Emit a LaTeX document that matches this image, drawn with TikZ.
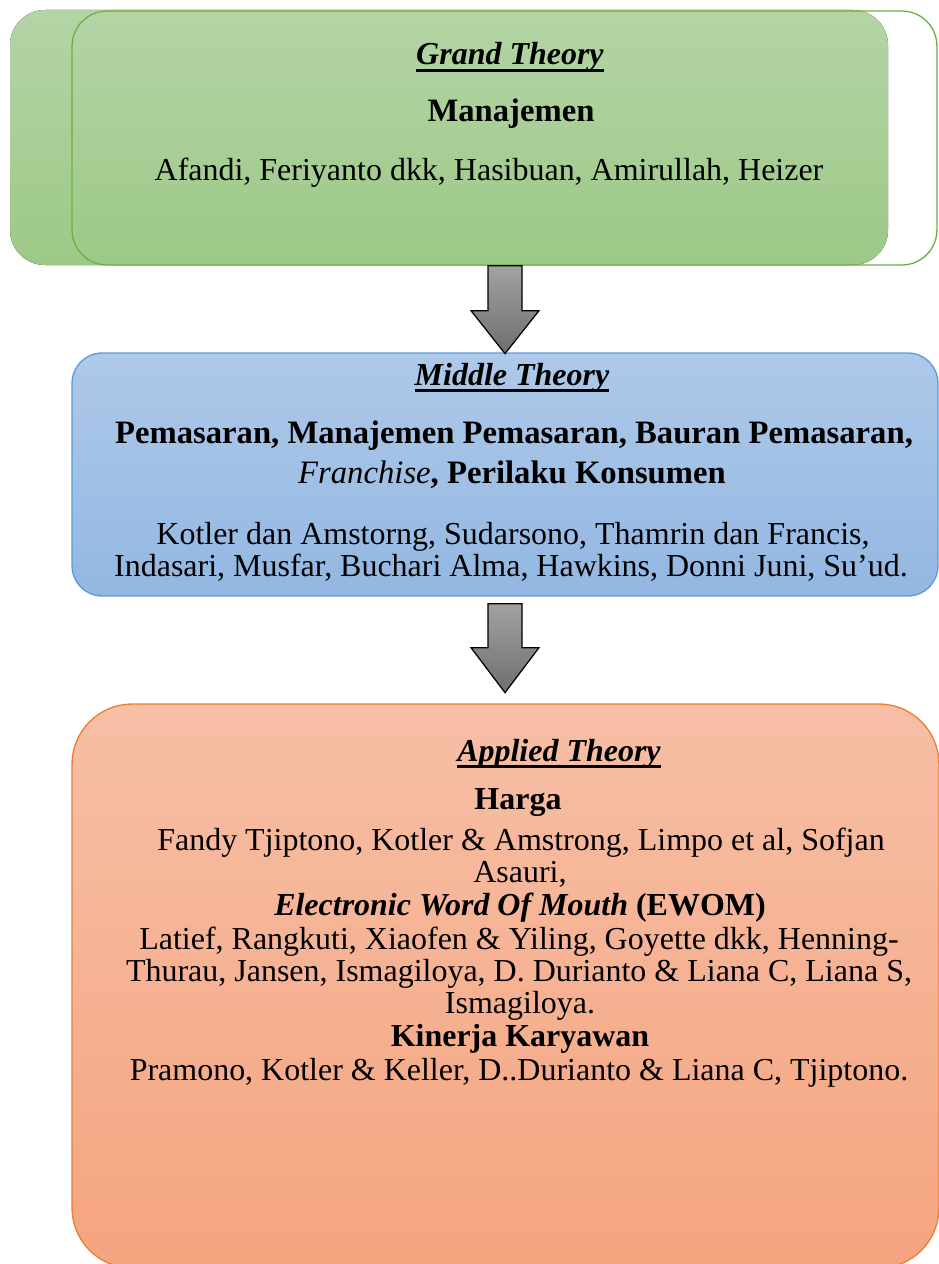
\documentclass[tikz,border=0pt]{standalone}
\usepackage{fontspec}
\setmainfont{Liberation Serif}
\usetikzlibrary{calc}

\definecolor{grandtop}{HTML}{B4D4A5}
\definecolor{grandbot}{HTML}{9DC987}
\definecolor{grandline}{HTML}{70AD47}
\definecolor{middletop}{HTML}{AEC9E9}
\definecolor{middlebot}{HTML}{93B7E2}
\definecolor{middleline}{HTML}{5B9BD5}
\definecolor{appliedtop}{HTML}{F6BFA6}
\definecolor{appliedbot}{HTML}{F5A47F}
\definecolor{appliedline}{HTML}{ED7D31}
\definecolor{arrowtop}{HTML}{A2A2A2}
\definecolor{arrowbot}{HTML}{6E6E6E}

\newcommand\theoryline[1]{\sbox0{#1}\rlap{\rule[-3.8pt]{\wd0}{1.8pt}}\usebox0}

\tikzset{
  theorybox/.style={rounded corners=#1, inner sep=0pt, line width=0.75pt},
  txt/.style={anchor=base, inner sep=0pt, font=\fontsize{18.2}{19}\selectfont},
  bigtxt/.style={txt, font=\fontsize{18.6}{19}\selectfont},
  blockarrow/.style={draw=black, line width=0.7pt, line join=miter,
    top color=arrowtop, bottom color=arrowbot},
}

\begin{document}
\begin{tikzpicture}[x=0.02cm, y=-0.02cm]
  \useasboundingbox (0,0) rectangle (939,1264);
  \clip (0,0) rectangle (939,1264);

  % boxes
  \fill[top color=grandtop, bottom color=grandbot, rounded corners=0.7cm] (10,10) rectangle (888,265);
  \node[theorybox=0.7cm, draw=grandline, minimum width=17.3cm, minimum height=5.08cm] (grand) at (504.5,138) {};
  \node[theorybox=0.6cm, draw=middleline, top color=middletop, bottom color=middlebot,
        minimum width=17.32cm, minimum height=4.86cm] (middle) at (505,474.5) {};
  \node[theorybox=1.2cm, draw=appliedline, top color=appliedtop, bottom color=appliedbot,
        minimum width=17.34cm, minimum height=11.28cm] (applied) at (505.5,986) {};

  % arrows
  \coordinate (arr1) at (grand.south -| middle.north);
  \coordinate (arr2) at ($(middle.south)+(0,7)$);
  \draw[blockarrow] (arr1) +(-17,0) -- +(-17,45) -- +(-34,45) -- +(0,88) -- +(34,45) -- +(17,45) -- +(17,0) -- cycle;
  \draw[blockarrow] (arr2) +(-17,0) -- +(-17,44) -- +(-34,44) -- +(0,89) -- +(34,44) -- +(17,44) -- +(17,0) -- cycle;

  % grand theory
  \node[txt] (grandhead) at (510,65) {\theoryline{\textbf{\textit{Grand Theory}}}};
  \node[bigtxt] (grandtopic) at (511,122) {\textbf{Manajemen}};
  \node[txt] (grandauth) at (489,180) {Afandi, Feriyanto dkk, Hasibuan, Amirullah, Heizer};

  % middle theory
  \node[txt] (midhead) at (512,385) {\theoryline{\textbf{\textit{Middle Theory}}}};
  \node[bigtxt] (midtopic1) at (514,443) {\textbf{Pemasaran, Manajemen Pemasaran, Bauran Pemasaran,}};
  \node[bigtxt] (midtopic2) at (512,483) {\textit{Franchise}\textbf{, Perilaku Konsumen}};
  \node[txt] (midauth1) at (513,544) {Kotler dan Amstorng, Sudarsono, Thamrin dan Francis,};
  \node[txt] (midauth2) at (511,576) {Indasari, Musfar, Buchari Alma, Hawkins, Donni Juni, Su’ud.};

  % applied theory
  \node[txt] (apphead) at (559,761) {\theoryline{\textbf{\textit{Applied Theory}}}};
  \node[txt] (harga) at (518,809) {\textbf{Harga}};
  \node[txt] (hargaauth1) at (521,850) {Fandy Tjiptono, Kotler \& Amstrong, Limpo et al, Sofjan};
  \node[txt] (hargaauth2) at (520,882) {Asauri,};
  \node[txt] (ewom) at (520,915) {\textbf{\textit{Electronic Word Of Mouth} (EWOM)}};
  \node[txt] (ewomauth1) at (519,949) {Latief, Rangkuti, Xiaofen \& Yiling, Goyette dkk, Henning-};
  \node[txt] (ewomauth2) at (519,981) {Thurau, Jansen, Ismagiloya, D. Durianto \& Liana C, Liana S,};
  \node[txt] (ewomauth3) at (520,1013) {Ismagiloya.};
  \node[txt] (kinerja) at (520,1046) {\textbf{Kinerja Karyawan}};
  \node[txt] (kinerjaauth) at (519,1080) {Pramono, Kotler \& Keller, D..Durianto \& Liana C, Tjiptono.};
\end{tikzpicture}
\end{document}
